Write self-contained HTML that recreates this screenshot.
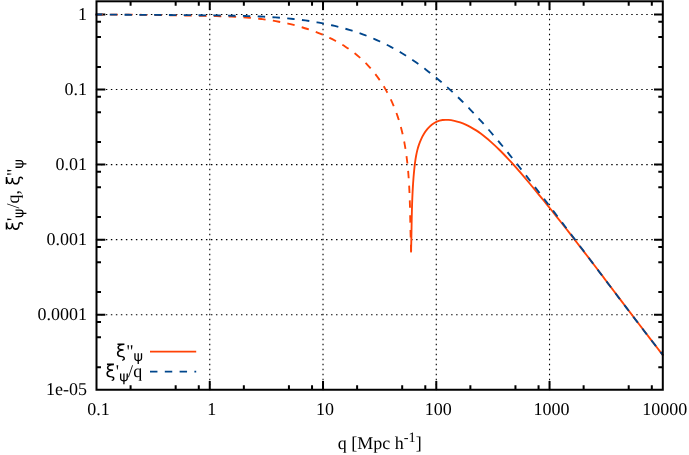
<!DOCTYPE html>
<html><head><meta charset="utf-8"><title>plot</title>
<style>html,body{margin:0;padding:0;background:#fff;}svg{display:block;will-change:transform;}text{text-rendering:geometricPrecision;font-family:"Liberation Serif",serif;font-size:18.0px;fill:#000;}</style></head><body>
<svg width="689" height="455" viewBox="0 0 689 455">
<rect width="689" height="455" fill="#fff"/>
<g stroke="#000" stroke-width="1.1" fill="none">
<path stroke-dasharray="1.45 3.55" d="M209.76 390.225V1.30"/>
<path stroke-dasharray="1.45 3.55" d="M323.02 390.225V1.30"/>
<path stroke-dasharray="1.45 3.55" d="M436.28 390.225V1.30"/>
<path stroke-dasharray="1.45 3.55" d="M549.54 390.225V1.30"/>
<path stroke-dasharray="1.45 3.5536" d="M95.86 14.50H662.80"/>
<path stroke-dasharray="1.45 3.5536" d="M95.86 89.55H662.80"/>
<path stroke-dasharray="1.45 3.5536" d="M95.86 164.60H662.80"/>
<path stroke-dasharray="1.45 3.5536" d="M95.86 239.65H662.80"/>
<path stroke-dasharray="1.45 3.5536" d="M95.86 314.70H662.80"/>
</g>
<g stroke="#000" stroke-width="2" fill="none">
<path d="M130.59 389.75v-4.50M130.59 1.30v4.50M175.67 389.75v-4.50M175.67 1.30v4.50M198.78 389.75v-4.50M198.78 1.30v4.50M209.76 389.75v-8.80M209.76 1.30v8.80M243.85 389.75v-4.50M243.85 1.30v4.50M288.93 389.75v-4.50M288.93 1.30v4.50M312.04 389.75v-4.50M312.04 1.30v4.50M323.02 389.75v-8.80M323.02 1.30v8.80M357.11 389.75v-4.50M357.11 1.30v4.50M402.19 389.75v-4.50M402.19 1.30v4.50M425.30 389.75v-4.50M425.30 1.30v4.50M436.28 389.75v-8.80M436.28 1.30v8.80M470.37 389.75v-4.50M470.37 1.30v4.50M515.45 389.75v-4.50M515.45 1.30v4.50M538.56 389.75v-4.50M538.56 1.30v4.50M549.54 389.75v-8.80M549.54 1.30v8.80M583.63 389.75v-4.50M583.63 1.30v4.50M628.71 389.75v-4.50M628.71 1.30v4.50M651.82 389.75v-4.50M651.82 1.30v4.50M96.50 367.16h4.50M662.80 367.16h-4.50M96.50 337.29h4.50M662.80 337.29h-4.50M96.50 321.97h4.50M662.80 321.97h-4.50M96.50 314.70h8.80M662.80 314.70h-8.80M96.50 292.11h4.50M662.80 292.11h-4.50M96.50 262.24h4.50M662.80 262.24h-4.50M96.50 246.92h4.50M662.80 246.92h-4.50M96.50 239.65h8.80M662.80 239.65h-8.80M96.50 217.06h4.50M662.80 217.06h-4.50M96.50 187.19h4.50M662.80 187.19h-4.50M96.50 171.87h4.50M662.80 171.87h-4.50M96.50 164.60h8.80M662.80 164.60h-8.80M96.50 142.01h4.50M662.80 142.01h-4.50M96.50 112.14h4.50M662.80 112.14h-4.50M96.50 96.82h4.50M662.80 96.82h-4.50M96.50 89.55h8.80M662.80 89.55h-8.80M96.50 66.96h4.50M662.80 66.96h-4.50M96.50 37.09h4.50M662.80 37.09h-4.50M96.50 21.77h4.50M662.80 21.77h-4.50M96.50 14.50h8.80M662.80 14.50h-8.80"/>
</g>
<g fill="none" stroke-width="1.85" stroke-linejoin="round">
<path d="M95.49 14.61C96.48 14.60 99.44 14.58 101.41 14.57C103.38 14.56 105.36 14.55 107.34 14.55C109.32 14.55 111.30 14.55 113.27 14.55C115.24 14.55 117.22 14.56 119.19 14.57C121.16 14.58 123.15 14.59 125.12 14.61C127.09 14.62 129.06 14.64 131.04 14.66C133.01 14.68 134.99 14.70 136.97 14.72C138.95 14.74 140.93 14.77 142.90 14.80C144.88 14.83 146.84 14.86 148.82 14.89C150.79 14.92 152.78 14.95 154.75 14.98C156.72 15.01 158.69 15.05 160.67 15.09C162.64 15.13 164.62 15.16 166.60 15.20C168.57 15.24 170.55 15.27 172.52 15.31C174.50 15.35 176.47 15.39 178.45 15.43C180.43 15.47 182.41 15.51 184.38 15.55C186.35 15.59 188.33 15.62 190.30 15.66C192.28 15.70 194.25 15.74 196.23 15.78C198.20 15.82 200.18 15.85 202.15 15.89C204.12 15.93 206.11 15.96 208.08 16.00C210.06 16.04 212.03 16.08 214.00 16.12C215.97 16.16 217.96 16.21 219.93 16.27C221.91 16.32 223.88 16.38 225.85 16.45C227.82 16.52 229.80 16.60 231.77 16.69C233.74 16.78 235.72 16.87 237.69 16.98C239.66 17.09 241.64 17.21 243.61 17.35C245.58 17.49 247.55 17.64 249.52 17.81C251.49 17.98 253.45 18.16 255.42 18.36C257.38 18.56 259.35 18.78 261.31 19.02C263.27 19.26 265.23 19.51 267.18 19.79C269.13 20.07 271.09 20.37 273.04 20.69C274.99 21.01 276.93 21.36 278.87 21.72C280.81 22.08 282.76 22.47 284.69 22.88C286.62 23.29 288.55 23.73 290.47 24.19C292.39 24.65 294.30 25.13 296.21 25.64C298.12 26.15 300.03 26.68 301.92 27.24C303.81 27.80 305.70 28.38 307.58 29.00C309.46 29.62 311.32 30.26 313.18 30.93C315.04 31.60 316.89 32.31 318.72 33.04C320.55 33.77 322.37 34.53 324.18 35.33C325.99 36.13 327.78 36.96 329.56 37.82C331.34 38.68 333.11 39.57 334.85 40.50C336.59 41.43 338.32 42.39 340.02 43.39C341.72 44.39 343.41 45.42 345.07 46.49C346.73 47.56 348.37 48.67 349.98 49.81C351.59 50.95 353.18 52.13 354.73 53.35C356.29 54.57 357.82 55.82 359.31 57.11C360.80 58.40 362.26 59.73 363.69 61.10C365.12 62.47 366.52 63.87 367.87 65.31C369.22 66.75 370.53 68.23 371.81 69.73C373.09 71.23 374.34 72.78 375.54 74.34C376.75 75.91 377.91 77.50 379.04 79.12C380.17 80.74 381.26 82.38 382.32 84.05C383.38 85.72 384.39 87.42 385.38 89.13C386.37 90.84 387.31 92.57 388.23 94.32C389.15 96.07 390.02 97.84 390.87 99.63C391.72 101.41 392.52 103.21 393.30 105.03C394.08 106.85 394.82 108.69 395.53 110.53C396.24 112.38 396.91 114.23 397.55 116.10C398.19 117.97 398.79 119.85 399.36 121.74C399.93 123.63 400.47 125.53 400.98 127.44C401.49 129.35 401.97 131.27 402.42 133.19C402.87 135.11 403.29 137.04 403.68 138.98C404.07 140.91 404.44 142.86 404.78 144.80C405.12 146.75 405.44 148.70 405.74 150.65C406.04 152.60 406.31 154.56 406.57 156.52C406.83 158.48 407.06 160.44 407.28 162.40C407.50 164.36 407.70 166.33 407.89 168.30C408.07 170.27 408.24 172.23 408.39 174.20C408.54 176.17 408.68 178.14 408.81 180.11C408.94 182.08 409.05 184.06 409.16 186.03C409.27 188.00 409.36 189.98 409.45 191.95C409.54 193.92 409.61 195.90 409.68 197.87C409.75 199.84 409.81 201.83 409.87 203.80C409.93 205.78 409.98 207.75 410.03 209.72C410.08 211.69 410.12 213.66 410.16 215.64C410.20 217.61 410.25 219.59 410.29 221.57C410.34 223.54 410.38 225.52 410.43 227.49C410.48 229.47 410.52 231.44 410.57 233.42C410.62 235.39 410.68 237.37 410.74 239.34C410.80 241.31 410.87 243.30 410.94 245.27C411.01 247.25 411.15 250.20 411.19 251.19" stroke="#ff4206" stroke-dasharray="7.45 7.35" stroke-dashoffset="0"/>
<path d="M411.04 251.63C411.07 250.63 411.15 247.65 411.20 245.66C411.25 243.67 411.30 241.67 411.34 239.68C411.38 237.69 411.41 235.69 411.45 233.70C411.49 231.71 411.52 229.72 411.56 227.73C411.60 225.74 411.63 223.74 411.67 221.75C411.71 219.76 411.75 217.77 411.79 215.78C411.83 213.79 411.88 211.79 411.93 209.80C411.98 207.81 412.04 205.82 412.11 203.83C412.18 201.84 412.25 199.85 412.33 197.86C412.41 195.87 412.50 193.88 412.60 191.89C412.70 189.90 412.81 187.91 412.93 185.92C413.05 183.93 413.19 181.95 413.34 179.96C413.49 177.97 413.64 175.99 413.82 174.00C414.00 172.01 414.19 170.03 414.40 168.05C414.61 166.07 414.83 164.09 415.10 162.12C415.37 160.15 415.66 158.17 416.02 156.21C416.38 154.25 416.78 152.30 417.27 150.37C417.76 148.44 418.32 146.52 418.97 144.64C419.62 142.76 420.35 140.90 421.19 139.10C422.03 137.30 422.95 135.52 424.00 133.83C425.05 132.14 426.20 130.48 427.48 128.97C428.76 127.46 430.16 125.99 431.71 124.76C433.26 123.53 434.97 122.40 436.77 121.61C438.57 120.82 440.55 120.29 442.50 120.01C444.45 119.73 446.49 119.79 448.47 119.93C450.45 120.07 452.43 120.44 454.37 120.86C456.31 121.28 458.24 121.84 460.12 122.47C462.00 123.10 463.86 123.84 465.68 124.65C467.50 125.46 469.28 126.36 471.03 127.32C472.77 128.28 474.48 129.32 476.15 130.40C477.82 131.48 479.45 132.63 481.05 133.81C482.65 134.99 484.22 136.23 485.76 137.49C487.30 138.75 488.81 140.04 490.31 141.36C491.81 142.68 493.27 144.03 494.73 145.39C496.19 146.75 497.63 148.13 499.05 149.52C500.47 150.91 501.88 152.32 503.27 153.75C504.66 155.18 506.03 156.62 507.40 158.07C508.76 159.52 510.12 160.99 511.46 162.46C512.80 163.93 514.13 165.42 515.45 166.91C516.77 168.40 518.08 169.90 519.38 171.40C520.68 172.91 521.98 174.42 523.27 175.94C524.56 177.46 525.85 178.98 527.13 180.50C528.41 182.02 529.69 183.55 530.97 185.08C532.25 186.61 533.52 188.15 534.79 189.68C536.06 191.22 537.33 192.75 538.59 194.29C539.85 195.83 541.11 197.38 542.37 198.92C543.63 200.46 544.89 202.01 546.14 203.56C547.39 205.11 548.64 206.66 549.89 208.21C551.14 209.76 552.39 211.32 553.63 212.88C554.87 214.44 556.11 216.00 557.35 217.56C558.59 219.12 559.82 220.68 561.05 222.24C562.28 223.80 563.52 225.37 564.75 226.94C565.98 228.51 567.20 230.08 568.43 231.65C569.66 233.22 570.89 234.79 572.11 236.36C573.33 237.93 574.55 239.51 575.77 241.08C576.99 242.66 578.20 244.23 579.42 245.81C580.64 247.39 581.86 248.97 583.07 250.55C584.28 252.13 585.49 253.71 586.70 255.29C587.91 256.87 589.12 258.46 590.33 260.04C591.54 261.62 592.75 263.21 593.96 264.79C595.17 266.38 596.38 267.97 597.58 269.55C598.79 271.13 599.99 272.71 601.19 274.30C602.39 275.89 603.61 277.48 604.81 279.07C606.01 280.66 607.21 282.24 608.41 283.83C609.61 285.42 610.82 287.00 612.02 288.59C613.22 290.18 614.43 291.77 615.63 293.36C616.83 294.95 618.04 296.53 619.24 298.12C620.44 299.71 621.64 301.30 622.84 302.89C624.04 304.48 625.25 306.06 626.45 307.65C627.66 309.24 628.87 310.82 630.07 312.41C631.28 314.00 632.47 315.58 633.68 317.17C634.88 318.76 636.09 320.35 637.30 321.93C638.51 323.51 639.72 325.10 640.93 326.68C642.14 328.26 643.35 329.84 644.56 331.42C645.77 333.00 646.99 334.59 648.20 336.17C649.41 337.75 650.62 339.32 651.84 340.90C653.06 342.48 654.28 344.06 655.50 345.63C656.72 347.20 657.94 348.78 659.16 350.35C660.38 351.92 662.22 354.28 662.83 355.07" stroke="#ff4206" stroke-linecap="round"/>
<path d="M95.51 14.46C96.51 14.47 99.51 14.52 101.51 14.54C103.51 14.56 105.51 14.58 107.51 14.60C109.51 14.62 111.51 14.64 113.51 14.66C115.51 14.68 117.51 14.69 119.51 14.71C121.51 14.73 123.51 14.74 125.51 14.76C127.51 14.78 129.50 14.79 131.50 14.80C133.50 14.81 135.50 14.83 137.50 14.84C139.50 14.85 141.50 14.87 143.50 14.88C145.50 14.89 147.50 14.90 149.50 14.91C151.50 14.92 153.50 14.93 155.50 14.94C157.50 14.95 159.50 14.97 161.50 14.98C163.50 14.99 165.50 15.00 167.50 15.01C169.50 15.02 171.49 15.04 173.49 15.05C175.49 15.06 177.49 15.08 179.49 15.09C181.49 15.10 183.49 15.12 185.49 15.13C187.49 15.15 189.49 15.16 191.49 15.18C193.49 15.20 195.49 15.22 197.49 15.24C199.49 15.26 201.49 15.28 203.49 15.30C205.49 15.32 207.49 15.34 209.49 15.36C211.49 15.38 213.48 15.41 215.48 15.44C217.48 15.47 219.48 15.49 221.48 15.52C223.48 15.55 225.48 15.58 227.48 15.62C229.48 15.65 231.48 15.69 233.48 15.73C235.48 15.77 237.47 15.80 239.47 15.85C241.47 15.90 243.47 15.95 245.47 16.01C247.47 16.07 249.47 16.12 251.47 16.19C253.47 16.26 255.46 16.34 257.46 16.42C259.46 16.50 261.45 16.59 263.45 16.69C265.45 16.79 267.44 16.90 269.44 17.02C271.44 17.14 273.44 17.26 275.43 17.40C277.43 17.54 279.42 17.69 281.41 17.85C283.40 18.01 285.40 18.19 287.39 18.38C289.38 18.57 291.37 18.77 293.36 18.98C295.35 19.20 297.34 19.43 299.32 19.67C301.30 19.92 303.28 20.17 305.26 20.45C307.24 20.73 309.22 21.02 311.20 21.33C313.18 21.64 315.14 21.97 317.11 22.32C319.08 22.67 321.05 23.04 323.01 23.42C324.97 23.80 326.94 24.21 328.89 24.63C330.84 25.05 332.80 25.50 334.74 25.96C336.68 26.42 338.62 26.90 340.55 27.41C342.48 27.92 344.42 28.45 346.34 29.00C348.26 29.55 350.18 30.12 352.09 30.72C354.00 31.32 355.90 31.94 357.79 32.58C359.68 33.22 361.56 33.89 363.44 34.58C365.31 35.27 367.18 36.00 369.04 36.74C370.90 37.48 372.75 38.25 374.58 39.04C376.41 39.83 378.24 40.65 380.05 41.50C381.86 42.35 383.66 43.22 385.45 44.12C387.24 45.02 389.02 45.94 390.78 46.88C392.54 47.82 394.29 48.78 396.03 49.77C397.77 50.76 399.50 51.77 401.21 52.80C402.92 53.83 404.62 54.88 406.31 55.95C408.00 57.02 409.67 58.11 411.34 59.22C413.00 60.33 414.66 61.45 416.30 62.59C417.94 63.73 419.57 64.89 421.19 66.07C422.81 67.25 424.41 68.44 426.00 69.65C427.59 70.86 429.17 72.08 430.74 73.32C432.31 74.56 433.87 75.81 435.42 77.08C436.97 78.35 438.50 79.64 440.03 80.93C441.55 82.23 443.07 83.53 444.57 84.85C446.07 86.17 447.56 87.50 449.04 88.84C450.52 90.18 451.99 91.54 453.45 92.90C454.91 94.27 456.36 95.64 457.80 97.03C459.24 98.42 460.68 99.82 462.10 101.23C463.52 102.64 464.93 104.06 466.33 105.48C467.73 106.91 469.13 108.34 470.51 109.78C471.89 111.22 473.26 112.68 474.63 114.14C476.00 115.60 477.36 117.07 478.71 118.54C480.06 120.01 481.40 121.49 482.74 122.98C484.08 124.47 485.40 125.97 486.72 127.47C488.04 128.97 489.35 130.48 490.66 131.99C491.97 133.50 493.26 135.03 494.56 136.55C495.86 138.07 497.15 139.60 498.43 141.13C499.71 142.66 500.99 144.21 502.26 145.75C503.53 147.29 504.81 148.84 506.07 150.39C507.33 151.94 508.59 153.49 509.84 155.05C511.09 156.61 512.34 158.17 513.59 159.73C514.84 161.29 516.09 162.85 517.33 164.42C518.57 165.99 519.80 167.57 521.04 169.14C522.27 170.71 523.51 172.29 524.74 173.86C525.97 175.44 527.20 177.01 528.43 178.59C529.66 180.17 530.88 181.75 532.10 183.33C533.32 184.91 534.55 186.49 535.77 188.07C536.99 189.65 538.22 191.23 539.44 192.82C540.66 194.41 541.87 195.99 543.09 197.58C544.31 199.17 545.52 200.75 546.74 202.34C547.96 203.93 549.17 205.52 550.38 207.11C551.59 208.70 552.81 210.29 554.02 211.88C555.23 213.47 556.44 215.06 557.65 216.65C558.86 218.24 560.07 219.84 561.28 221.43C562.49 223.02 563.69 224.62 564.90 226.21C566.11 227.81 567.31 229.40 568.52 231.00C569.73 232.60 570.93 234.19 572.13 235.79C573.33 237.39 574.54 238.98 575.74 240.58C576.94 242.18 578.15 243.77 579.35 245.37C580.55 246.97 581.76 248.56 582.96 250.16C584.16 251.76 585.37 253.35 586.57 254.95C587.77 256.55 588.98 258.15 590.18 259.75C591.38 261.35 592.58 262.94 593.78 264.54C594.98 266.14 596.19 267.73 597.39 269.33C598.59 270.93 599.80 272.53 601.00 274.13C602.20 275.73 603.40 277.32 604.60 278.92C605.80 280.52 607.01 282.11 608.22 283.71C609.43 285.31 610.63 286.90 611.83 288.50C613.03 290.10 614.24 291.68 615.44 293.28C616.64 294.88 617.85 296.47 619.06 298.07C620.27 299.67 621.48 301.26 622.69 302.85C623.90 304.44 625.11 306.03 626.32 307.62C627.53 309.21 628.74 310.81 629.95 312.40C631.16 313.99 632.38 315.58 633.59 317.17C634.80 318.76 636.01 320.34 637.23 321.93C638.45 323.52 639.66 325.10 640.88 326.69C642.10 328.28 643.32 329.87 644.54 331.45C645.76 333.03 646.98 334.62 648.20 336.20C649.42 337.78 650.65 339.36 651.88 340.94C653.11 342.52 654.33 344.09 655.56 345.67C656.79 347.25 658.02 348.82 659.25 350.40C660.48 351.98 662.33 354.34 662.95 355.13" stroke="#00468c" stroke-dasharray="7.45 7.35" stroke-dashoffset="0.6"/>
</g>
<rect x="96.50" y="1.30" width="566.30" height="388.45" fill="none" stroke="#000" stroke-width="2"/>
<text x="78.00" y="20.20">1</text>
<text x="64.50 73.50 78.00" y="95.25">0.1</text>
<text x="55.50 64.50 69.00 78.00" y="170.30">0.01</text>
<text x="46.50 55.50 60.00 69.00 78.00" y="245.35">0.001</text>
<text x="37.50 46.50 51.00 60.00 69.00 78.00" y="320.40">0.0001</text>
<text x="46.02 55.02 63.01 69.00 78.00" y="395.45">1e-05</text>
<text x="87.25 96.25 100.75" y="415.20">0.1</text>
<text x="207.26" y="415.20">1</text>
<text x="316.02 325.02" y="415.20">10</text>
<text x="424.78 433.78 442.78" y="415.20">100</text>
<text x="533.54 542.54 551.54 560.54" y="415.20">1000</text>
<text x="642.30 651.30 660.30 669.30 678.30" y="415.20">10000</text>
<text x="379.75" y="448.7" text-anchor="middle">q [Mpc h<tspan font-size="14.40px" dy="-6.4">-1</tspan><tspan dy="6.4">]</tspan></text>
<path d="M730 127Q862 126 941 51Q1025 -28 1025 -148Q1025 -263 951 -343Q871 -430 708 -430Q708 -355 708 -279Q777 -284 819 -240Q851 -205 851 -168Q851 -115 819 -71Q788 -29 730 -29Q107 -29 107 408Q107 708 440 796Q160 832 160 1092Q160 1289 380 1371H172V1556H961V1371Q332 1371 332 1080Q332 889 860 880V710Q290 732 292 408Q293 137 730 127Z" transform="translate(115.96 357.10) scale(0.00879 -0.00879)" fill="#000"/><text x="126.18" y="357.10" font-size="18.00px">&quot;</text><path d="M581 -25Q350 12 243 109Q112 228 112 471V1120H298V478Q298 295 383 219Q457 153 581 139V1120H764V140Q895 154 962 220Q1047 304 1047 479V1120H1233V472Q1233 220 1102 110Q984 11 764 -24V-426H581Z" transform="translate(133.50 361.10) scale(0.00703 -0.00703)" fill="#000"/>
<path d="M730 127Q862 126 941 51Q1025 -28 1025 -148Q1025 -263 951 -343Q871 -430 708 -430Q708 -355 708 -279Q777 -284 819 -240Q851 -205 851 -168Q851 -115 819 -71Q788 -29 730 -29Q107 -29 107 408Q107 708 440 796Q160 832 160 1092Q160 1289 380 1371H172V1556H961V1371Q332 1371 332 1080Q332 889 860 880V710Q290 732 292 408Q293 137 730 127Z" transform="translate(105.46 377.30) scale(0.00879 -0.00879)" fill="#000"/><text x="115.74" y="377.30" font-size="18.00px">'</text><path d="M581 -25Q350 12 243 109Q112 228 112 471V1120H298V478Q298 295 383 219Q457 153 581 139V1120H764V140Q895 154 962 220Q1047 304 1047 479V1120H1233V472Q1233 220 1102 110Q984 11 764 -24V-426H581Z" transform="translate(119.20 381.30) scale(0.00703 -0.00703)" fill="#000"/><text x="127.90" y="377.30" font-size="18.00px">/</text><text x="133.30" y="377.30" font-size="18.00px">q</text>
<path d="M150 351.6H196.2" stroke="#ff4206" stroke-width="1.7" fill="none"/>
<path d="M150 371.7H196.2" stroke="#00468c" stroke-width="1.7" stroke-dasharray="7.45 7.35" fill="none"/>
<g transform="translate(19.40 195.00) rotate(-90)"><path d="M730 127Q862 126 941 51Q1025 -28 1025 -148Q1025 -263 951 -343Q871 -430 708 -430Q708 -355 708 -279Q777 -284 819 -240Q851 -205 851 -168Q851 -115 819 -71Q788 -29 730 -29Q107 -29 107 408Q107 708 440 796Q160 832 160 1092Q160 1289 380 1371H172V1556H961V1371Q332 1371 332 1080Q332 889 860 880V710Q290 732 292 408Q293 137 730 127Z" transform="translate(-35.93 0.00) scale(0.00879 -0.00879)" fill="#000"/><text x="-26.10" y="0.00" font-size="18.00px">'</text><path d="M581 -25Q350 12 243 109Q112 228 112 471V1120H298V478Q298 295 383 219Q457 153 581 139V1120H764V140Q895 154 962 220Q1047 304 1047 479V1120H1233V472Q1233 220 1102 110Q984 11 764 -24V-426H581Z" transform="translate(-23.05 4.00) scale(0.00703 -0.00703)" fill="#000"/><text x="-13.55" y="0.00" font-size="18.00px">/</text><text x="-8.55" y="0.00" font-size="18.00px">q</text><text x="0.45" y="0.00" font-size="18.00px">,</text><text x="4.95" y="0.00" font-size="18.00px"> </text><path d="M730 127Q862 126 941 51Q1025 -28 1025 -148Q1025 -263 951 -343Q871 -430 708 -430Q708 -355 708 -279Q777 -284 819 -240Q851 -205 851 -168Q851 -115 819 -71Q788 -29 730 -29Q107 -29 107 408Q107 708 440 796Q160 832 160 1092Q160 1289 380 1371H172V1556H961V1371Q332 1371 332 1080Q332 889 860 880V710Q290 732 292 408Q293 137 730 127Z" transform="translate(9.45 0.00) scale(0.00879 -0.00879)" fill="#000"/><text x="19.09" y="0.00" font-size="18.00px">&quot;</text><path d="M581 -25Q350 12 243 109Q112 228 112 471V1120H298V478Q298 295 383 219Q457 153 581 139V1120H764V140Q895 154 962 220Q1047 304 1047 479V1120H1233V472Q1233 220 1102 110Q984 11 764 -24V-426H581Z" transform="translate(26.33 4.00) scale(0.00703 -0.00703)" fill="#000"/></g>
</svg></body></html>
